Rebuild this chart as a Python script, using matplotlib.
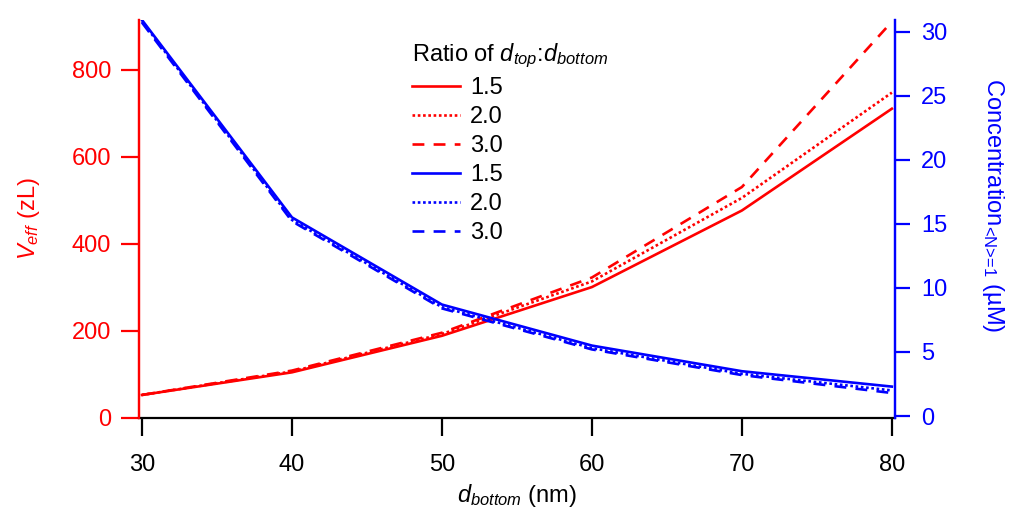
import matplotlib
matplotlib.use('Agg')
import matplotlib.pyplot as plt

plt.rcParams['font.family'] = ['Liberation Sans', 'DejaVu Sans']
plt.rcParams['mathtext.fontset'] = 'custom'
plt.rcParams['mathtext.rm'] = 'Liberation Sans'
plt.rcParams['mathtext.it'] = 'Liberation Sans:italic'

# bottom layer thickness (nm)
d_bottom = [30, 40, 50, 60, 70, 80]
ratios = ['1.5', '2.0', '3.0']

# effective volume (zL) for each d_top:d_bottom ratio
v_eff = {
    '1.5': [52, 104, 188, 300, 476, 710],
    '2.0': [52, 106, 192, 313, 505, 747],
    '3.0': [52, 108, 195, 322, 530, 910],
}
# concentration for <N>=1 (uM)
conc = {
    '1.5': [30.9, 15.5, 8.7, 5.5, 3.5, 2.3],
    '2.0': [30.8, 15.3, 8.5, 5.3, 3.3, 2.0],
    '3.0': [30.7, 15.2, 8.4, 5.2, 3.2, 1.8],
}

styles = {'1.5': '-', '2.0': (0, (1, 1)), '3.0': (0, (4.5, 3.5))}
red = '#ff0000'
blue = '#0000ff'
fs = 17

fig = plt.figure(figsize=(10.1, 5.19), dpi=100)
ax = fig.add_axes([0.1376, 0.1946, 0.886 - 0.1376, 0.9615 - 0.1946])
ax2 = ax.twinx()

handles = []
for r in ratios:
    h, = ax.plot(d_bottom, v_eff[r], color=red, lw=1.9, ls=styles[r])
    handles.append(h)
for r in ratios:
    h, = ax2.plot(d_bottom, conc[r], color=blue, lw=1.9, ls=styles[r])
    handles.append(h)

ax.set_xlim(29.8, 80.2)
ax.set_ylim(-1, 914)
ax2.set_ylim(-0.15, 30.9)
ax.set_xticks(range(30, 81, 10))
ax.set_yticks(range(0, 801, 200))
ax2.set_yticks(range(0, 31, 5))

for a in (ax, ax2):
    a.spines['top'].set_visible(False)
    a.spines['left'].set_color(red)
    a.spines['right'].set_color(blue)
    for s in a.spines.values():
        s.set_linewidth(1.6)
ax.spines['bottom'].set_color('black')
ax2.spines['bottom'].set_visible(False)

ax.tick_params(axis='x', direction='out', length=13, width=1.6, labelsize=fs, pad=13, colors='black')
ax.tick_params(axis='y', direction='out', length=13, width=1.6, labelsize=fs, pad=7, colors=red)
ax2.tick_params(axis='y', direction='out', length=11, width=1.6, labelsize=fs, pad=8, colors=blue)

ax.set_xlabel(r'$\mathit{d}_{\mathit{bottom}}$ (nm)', fontsize=fs, labelpad=4)
ax.set_ylabel(r'$\mathit{V}_{\mathit{eff}}$ (zL)', fontsize=fs, color=red,
              ha='center', va='center')
ax.yaxis.set_label_coords(-0.145, 0.5)
ax2.set_ylabel(r'Concentration$_{\text{<N>=1}}$ (µM)', fontsize=fs, color=blue,
               rotation=270, ha='center', va='center')
ax2.yaxis.set_label_coords(1.13, 0.535)

leg = ax2.legend(handles, ratios + ratios, loc='upper left',
                 bbox_to_anchor=(0.343, 0.982), frameon=False, fontsize=fs,
                 title=r'Ratio of $\mathit{d}_{\mathit{top}}$:$\mathit{d}_{\mathit{bottom}}$',
                 title_fontsize=fs, alignment='left', handlelength=2.0,
                 handletextpad=0.45, labelspacing=0.3, borderpad=0.1)

fig.savefig('out.png', dpi=100)
